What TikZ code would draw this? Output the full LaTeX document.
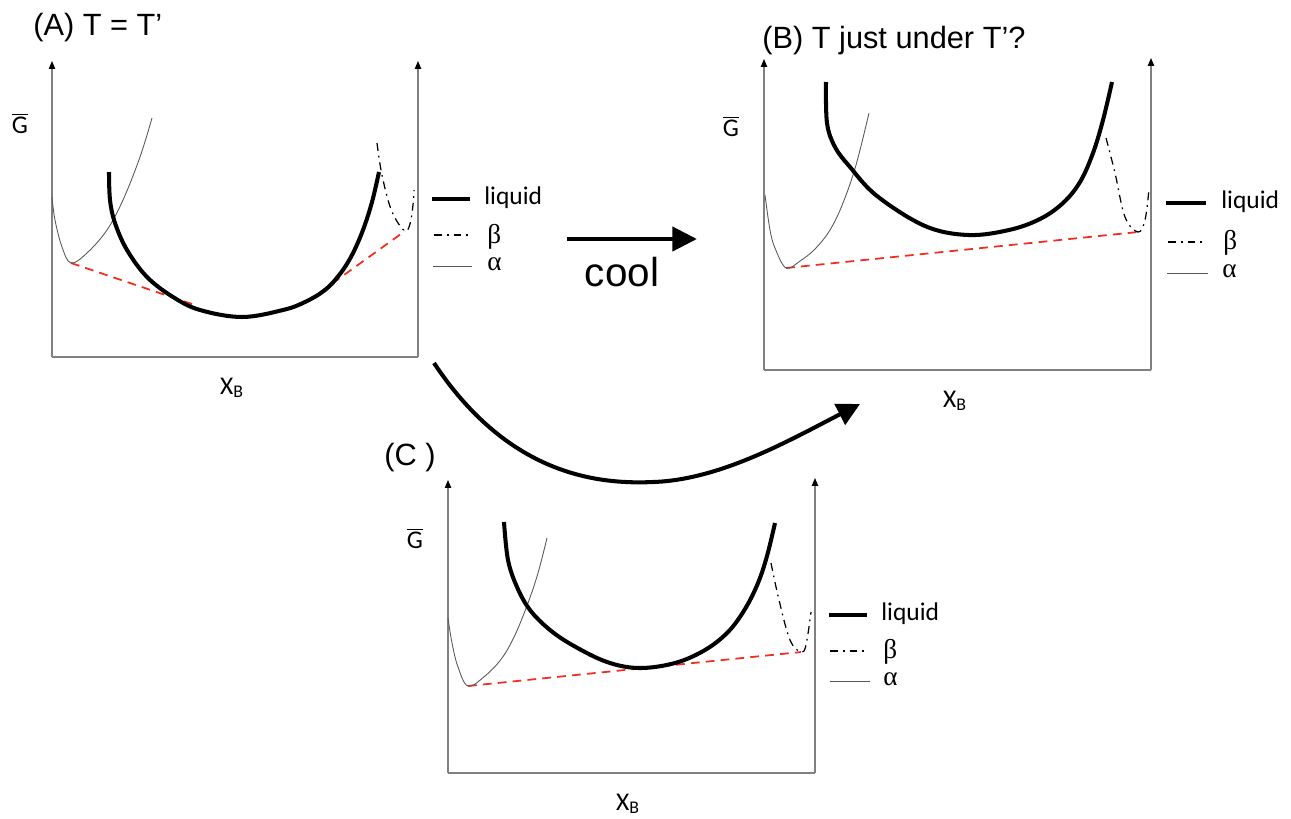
\documentclass[tikz,border=0pt]{standalone}
\usepackage{fontspec}
\setmainfont{Liberation Sans}
\newfontfamily\lblfont{Carlito}
\newfontfamily\grkfont{Liberation Serif}
\usepackage{tikz}
\usetikzlibrary{arrows.meta}
\definecolor{tiered}{RGB}{240,45,30}

\begin{document}
\begin{tikzpicture}[x=0.02cm, y=-0.02cm,
  axisline/.style={draw=gray, line width=0.6pt},
  axisarrow/.style={axisline, -{Triangle[length=4.5pt,width=3.6pt,black]}},
  liquidcurve/.style={line width=2.3pt, black},
  alphacurve/.style={line width=0.5pt, black!65},
  betacurve/.style={line width=0.7pt, black, dash pattern=on 4.5pt off 2.8pt on 1pt off 2.8pt},
  tieline/.style={line width=1pt, tiered, dash pattern=on 5pt off 3.5pt},
  panellabel/.style={font=\fontsize{17.5}{21}\selectfont, anchor=base west, inner sep=0pt},
  axislabel/.style={font=\lblfont\fontsize{14.5}{17}\selectfont, anchor=base, inner sep=0pt},
  legendtext/.style={font=\lblfont\fontsize{14.5}{17}\selectfont, anchor=west, inner sep=0pt},
  greektext/.style={font=\grkfont\fontsize{15.5}{18}\selectfont, anchor=west, inner sep=0pt}]
\useasboundingbox (0,0) rectangle (1291,818);

% (A)
\node[panellabel] (titleA) at (33,35) {(A) T = T’};
\draw[axisarrow] (52,357) -- (52,61);
\draw[axisarrow] (418,357) -- (418,61);
\draw[axisline] (52,357) -- (418,357);
\node[axislabel] (gA) at (20,133) {$\overline{\mbox{G}}$};
\node[axislabel] (xA) at (232,394) {X\textsubscript{B}};
\draw[tieline] (71,263) -- (192,304);
\draw[tieline] (308,301) -- (405,231);
\draw[alphacurve] plot[smooth, tension=0.6] coordinates {(52,197) (55,220) (62,247) (71,263) (87,253) (107,230) (123,200) (140,157) (152,118)};
\draw[betacurve] plot[smooth, tension=0.6] coordinates {(377,143) (381,170) (388,200) (395,218) (405,231) (410,224) (413,205) (414,190)};
\draw[liquidcurve] plot[smooth, tension=0.6] coordinates {(109,172) (110,200) (115,223) (127,250) (147,277) (173,297) (200,310) (242,317) (283,310) (305,302) (325,290) (340,274) (352,255) (363,230) (372,202) (379,172)};
\draw[liquidcurve] (432,199) -- (470,199);
\draw[betacurve] (434,235) -- (470,235);
\draw[alphacurve] (433,266) -- (472,266);
\node[legendtext] (liqA) at (484,198) {liquid};
\node[greektext] (betaA) at (487,237) {β};
\node[greektext] (alphaA) at (487,264) {α};

% cool
\coordinate (coolfrom) at (567,239);
\coordinate (coolto) at (697,239);
\draw[line width=2.8pt, -{Triangle[length=14pt,width=13.5pt]}] (coolfrom) -- (coolto);
\node[font=\fontsize{23}{27}\selectfont, anchor=base, inner sep=0pt] (cool) at (622,286) {cool};

% (B)
\node[panellabel] (titleB) at (762,48) {(B) T just under T’?};
\draw[axisarrow] (764,370) -- (764,59);
\draw[axisarrow] (1151,370) -- (1151,58);
\draw[axisline] (764,370) -- (1151,370);
\node[axislabel] (gB) at (731,136) {$\overline{\mbox{G}}$};
\node[axislabel] (xB) at (955,407) {X\textsubscript{B}};
\draw[tieline] (786,268) -- (1138,232);
\draw[alphacurve] plot[smooth, tension=0.6] coordinates {(765,195) (770,230) (775,248) (786,268) (800,261) (815,249) (830,230) (843,203) (856,165) (869,113)};
\draw[betacurve] plot[smooth, tension=0.6] coordinates {(1106,138) (1115,173) (1125,217) (1138,232) (1145,220) (1149,189)};
\draw[liquidcurve] plot[smooth, tension=0.6] coordinates {(826,82) (827,123) (835,147) (850,167) (877,196) (925,226) (968,235) (1009,230) (1040,219) (1063,203) (1080,182) (1093,153) (1103,120) (1112,82)};
\draw[liquidcurve] (1166,203) -- (1206,203);
\draw[betacurve] (1168,242) -- (1206,242);
\draw[alphacurve] (1167,273) -- (1208,273);
\node[legendtext] (liqB) at (1221,202) {liquid};
\node[greektext] (betaB) at (1223,243) {β};
\node[greektext] (alphaB) at (1222,271) {α};

% (C)
\node[panellabel] (titleC) at (384,465) {(C )};
\draw[axisarrow] (448,773) -- (448,480);
\draw[axisarrow] (815,773) -- (815,478);
\draw[axisline] (448,773) -- (815,773);
\node[axislabel] (gC) at (415,548) {$\overline{\mbox{G}}$};
\node[axislabel] (xC) at (628,810) {X\textsubscript{B}};
\draw[tieline] (468,686) -- (801,652);
\draw[alphacurve] plot[smooth, tension=0.6] coordinates {(448,618) (452,643) (458,667) (468,686) (485,676) (502,658) (515,635) (528,603) (538,573) (547,538)};
\draw[betacurve] plot[smooth, tension=0.6] coordinates {(771,563) (779,600) (790,640) (801,652) (806,645) (811,612)};
\draw[liquidcurve] plot[smooth, tension=0.6] coordinates {(504,522) (508,560) (517,587) (530,610) (550,630) (574,646) (607,662) (639,668) (675,663) (705,650) (728,632) (745,609) (758,583) (767,556) (775,523)};
\draw[liquidcurve] (829,615) -- (867,615);
\draw[betacurve] (830,651) -- (867,651);
\draw[alphacurve] (830,681) -- (870,681);
\node[legendtext] (liqC) at (881,614) {liquid};
\node[greektext] (betaC) at (883,652) {β};
\node[greektext] (alphaC) at (883,679) {α};

% A -> B
\coordinate (swingfrom) at (434,363);
\coordinate (swingto) at (860,404);
\draw[line width=2.3pt, -{Triangle[length=13pt,width=13pt]}] (swingfrom) .. controls (505,470) and (590,485) .. (653,482) .. controls (720,480) and (790,440) .. (swingto);
\end{tikzpicture}
\end{document}
